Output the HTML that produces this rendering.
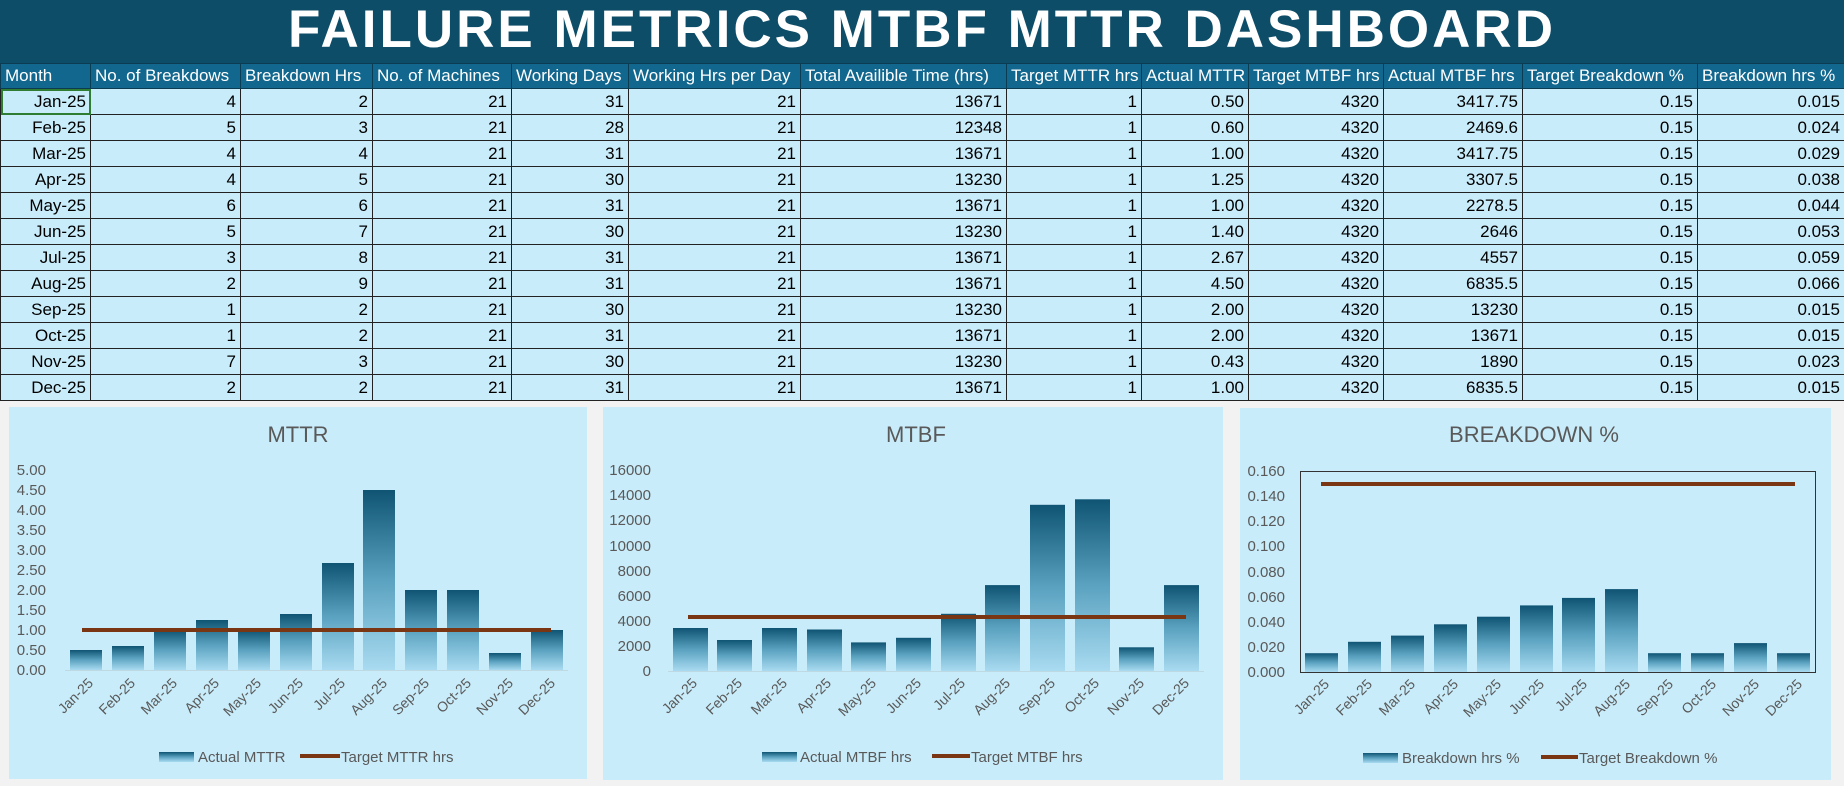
<!DOCTYPE html>
<html><head><meta charset="utf-8"><style>
body{margin:0;width:1844px;height:786px;background:#f2f2f2;overflow:hidden;position:relative;font-family:"Liberation Sans Narrow","Liberation Sans",sans-serif}
#title{position:absolute;left:0;top:0;width:1844px;height:63px;background:#0e4d68;color:#fff;font:bold 53px "Liberation Sans",sans-serif;text-align:center;line-height:60px;letter-spacing:3px}
table{position:absolute;left:0;top:63px;border-collapse:collapse;table-layout:fixed;width:1844px}
td,th{border:1px solid #222;padding:0 4px;font-size:17px;height:25px;white-space:nowrap;overflow:hidden}
th{background:#11678e;color:#fff;font-weight:normal;text-align:left;height:24px;border-color:#0b3c52}
td{background:#c9ecfa;text-align:right;color:#000}
.p{position:absolute;background:#c9ecfa}
</style></head><body>
<div id="title">FAILURE METRICS MTBF MTTR DASHBOARD</div>
<table>
<colgroup><col style="width:90px"><col style="width:150px"><col style="width:132px"><col style="width:139px"><col style="width:117px"><col style="width:172px"><col style="width:206px"><col style="width:135px"><col style="width:107px"><col style="width:135px"><col style="width:139px"><col style="width:175px"><col style="width:147px"></colgroup>
<tr><th>Month</th><th>No. of Breakdows</th><th>Breakdown Hrs</th><th>No. of Machines</th><th>Working Days</th><th>Working Hrs per Day</th><th>Total Availible Time (hrs)</th><th>Target MTTR hrs</th><th>Actual MTTR</th><th>Target MTBF hrs</th><th>Actual MTBF hrs</th><th>Target Breakdown %</th><th>Breakdown hrs %</th></tr>
<tr><td style="outline:2px solid #2e7d32;outline-offset:-2px">Jan-25</td><td>4</td><td>2</td><td>21</td><td>31</td><td>21</td><td>13671</td><td>1</td><td>0.50</td><td>4320</td><td>3417.75</td><td>0.15</td><td>0.015</td></tr>
<tr><td>Feb-25</td><td>5</td><td>3</td><td>21</td><td>28</td><td>21</td><td>12348</td><td>1</td><td>0.60</td><td>4320</td><td>2469.6</td><td>0.15</td><td>0.024</td></tr>
<tr><td>Mar-25</td><td>4</td><td>4</td><td>21</td><td>31</td><td>21</td><td>13671</td><td>1</td><td>1.00</td><td>4320</td><td>3417.75</td><td>0.15</td><td>0.029</td></tr>
<tr><td>Apr-25</td><td>4</td><td>5</td><td>21</td><td>30</td><td>21</td><td>13230</td><td>1</td><td>1.25</td><td>4320</td><td>3307.5</td><td>0.15</td><td>0.038</td></tr>
<tr><td>May-25</td><td>6</td><td>6</td><td>21</td><td>31</td><td>21</td><td>13671</td><td>1</td><td>1.00</td><td>4320</td><td>2278.5</td><td>0.15</td><td>0.044</td></tr>
<tr><td>Jun-25</td><td>5</td><td>7</td><td>21</td><td>30</td><td>21</td><td>13230</td><td>1</td><td>1.40</td><td>4320</td><td>2646</td><td>0.15</td><td>0.053</td></tr>
<tr><td>Jul-25</td><td>3</td><td>8</td><td>21</td><td>31</td><td>21</td><td>13671</td><td>1</td><td>2.67</td><td>4320</td><td>4557</td><td>0.15</td><td>0.059</td></tr>
<tr><td>Aug-25</td><td>2</td><td>9</td><td>21</td><td>31</td><td>21</td><td>13671</td><td>1</td><td>4.50</td><td>4320</td><td>6835.5</td><td>0.15</td><td>0.066</td></tr>
<tr><td>Sep-25</td><td>1</td><td>2</td><td>21</td><td>30</td><td>21</td><td>13230</td><td>1</td><td>2.00</td><td>4320</td><td>13230</td><td>0.15</td><td>0.015</td></tr>
<tr><td>Oct-25</td><td>1</td><td>2</td><td>21</td><td>31</td><td>21</td><td>13671</td><td>1</td><td>2.00</td><td>4320</td><td>13671</td><td>0.15</td><td>0.015</td></tr>
<tr><td>Nov-25</td><td>7</td><td>3</td><td>21</td><td>30</td><td>21</td><td>13230</td><td>1</td><td>0.43</td><td>4320</td><td>1890</td><td>0.15</td><td>0.023</td></tr>
<tr><td>Dec-25</td><td>2</td><td>2</td><td>21</td><td>31</td><td>21</td><td>13671</td><td>1</td><td>1.00</td><td>4320</td><td>6835.5</td><td>0.15</td><td>0.015</td></tr>
</table>
<div class="p" style="left:9px;top:407px;width:578px;height:372px"></div>
<div class="p" style="left:603px;top:407px;width:620px;height:373px"></div>
<div class="p" style="left:1240px;top:408px;width:591px;height:372px"></div>
<svg width="1844" height="786" style="position:absolute;left:0;top:0" font-family="Liberation Sans Narrow, Liberation Sans, sans-serif" fill="#595959">
<defs><linearGradient id="g" x1="0" y1="0" x2="0" y2="1"><stop offset="0" stop-color="#0f5473"/><stop offset="0.5" stop-color="#5aa2c0"/><stop offset="1" stop-color="#a9dbf1"/></linearGradient></defs>
<g font-size="22" text-anchor="middle"><text x="298" y="442">MTTR</text><text x="916" y="442">MTBF</text><text x="1534" y="442">BREAKDOWN %</text></g>
<g font-size="15" text-anchor="end">
<text x="46" y="475">5.00</text><text x="46" y="495">4.50</text><text x="46" y="515">4.00</text><text x="46" y="535">3.50</text><text x="46" y="555">3.00</text><text x="46" y="575">2.50</text><text x="46" y="595">2.00</text><text x="46" y="615">1.50</text><text x="46" y="635">1.00</text><text x="46" y="655">0.50</text><text x="46" y="675">0.00</text></g>
<line x1="65" y1="670.5" x2="568" y2="670.5" stroke="#bfd9e3"/>
<g fill="url(#g)">
<rect x="70" y="650" width="32" height="20"/><rect x="112" y="646" width="32" height="24"/><rect x="154" y="630" width="32" height="40"/><rect x="196" y="620" width="32" height="50"/><rect x="238" y="630" width="32" height="40"/><rect x="280" y="614" width="32" height="56"/><rect x="322" y="563" width="32" height="107"/><rect x="363" y="490" width="32" height="180"/><rect x="405" y="590" width="32" height="80"/><rect x="447" y="590" width="32" height="80"/><rect x="489" y="653" width="32" height="17"/><rect x="531" y="630" width="32" height="40"/></g>
<line x1="82" y1="630" x2="551" y2="630" stroke="#7a3513" stroke-width="4"/>
<g font-size="14" text-anchor="end">
<text transform="translate(94,684) rotate(-45)">Jan-25</text><text transform="translate(136,684) rotate(-45)">Feb-25</text><text transform="translate(178,684) rotate(-45)">Mar-25</text><text transform="translate(220,684) rotate(-45)">Apr-25</text><text transform="translate(262,684) rotate(-45)">May-25</text><text transform="translate(304,684) rotate(-45)">Jun-25</text><text transform="translate(346,684) rotate(-45)">Jul-25</text><text transform="translate(388,684) rotate(-45)">Aug-25</text><text transform="translate(430,684) rotate(-45)">Sep-25</text><text transform="translate(472,684) rotate(-45)">Oct-25</text><text transform="translate(514,684) rotate(-45)">Nov-25</text><text transform="translate(556,684) rotate(-45)">Dec-25</text></g>
<g font-size="15"><rect x="159" y="752" width="35" height="10" fill="url(#g)"/><text x="198" y="762">Actual MTTR</text><line x1="300" y1="756" x2="340" y2="756" stroke="#7a3513" stroke-width="4"/><text x="341" y="762">Target MTTR hrs</text></g>
<g font-size="15" text-anchor="end">
<text x="651" y="475">16000</text><text x="651" y="500">14000</text><text x="651" y="525">12000</text><text x="651" y="551">10000</text><text x="651" y="576">8000</text><text x="651" y="601">6000</text><text x="651" y="626">4000</text><text x="651" y="651">2000</text><text x="651" y="676">0</text></g>
<line x1="668" y1="671.5" x2="1204" y2="671.5" stroke="#bfd9e3"/>
<g fill="url(#g)">
<rect x="673" y="628" width="35" height="43"/><rect x="717" y="640" width="35" height="31"/><rect x="762" y="628" width="35" height="43"/><rect x="807" y="629.5" width="35" height="41.5"/><rect x="851" y="642.4" width="35" height="28.6"/><rect x="896" y="637.8" width="35" height="33.2"/><rect x="941" y="613.8" width="35" height="57.2"/><rect x="985" y="585.1" width="35" height="85.9"/><rect x="1030" y="504.8" width="35" height="166.2"/><rect x="1075" y="499.3" width="35" height="171.7"/><rect x="1119" y="647.3" width="35" height="23.7"/><rect x="1164" y="585.1" width="35" height="85.9"/></g>
<line x1="688" y1="617" x2="1186" y2="617" stroke="#7a3513" stroke-width="4"/>
<g font-size="14" text-anchor="end">
<text transform="translate(698,684) rotate(-45)">Jan-25</text><text transform="translate(743,684) rotate(-45)">Feb-25</text><text transform="translate(788,684) rotate(-45)">Mar-25</text><text transform="translate(832,684) rotate(-45)">Apr-25</text><text transform="translate(877,684) rotate(-45)">May-25</text><text transform="translate(922,684) rotate(-45)">Jun-25</text><text transform="translate(966,684) rotate(-45)">Jul-25</text><text transform="translate(1011,684) rotate(-45)">Aug-25</text><text transform="translate(1056,684) rotate(-45)">Sep-25</text><text transform="translate(1100,684) rotate(-45)">Oct-25</text><text transform="translate(1145,684) rotate(-45)">Nov-25</text><text transform="translate(1190,684) rotate(-45)">Dec-25</text></g>
<g font-size="15"><rect x="762" y="752" width="35" height="10" fill="url(#g)"/><text x="800" y="762">Actual MTBF hrs</text><line x1="932" y1="756" x2="970" y2="756" stroke="#7a3513" stroke-width="4"/><text x="971" y="762">Target MTBF hrs</text></g>
<g font-size="15" text-anchor="end">
<text x="1285" y="476">0.160</text><text x="1285" y="501">0.140</text><text x="1285" y="526">0.120</text><text x="1285" y="551">0.100</text><text x="1285" y="577">0.080</text><text x="1285" y="602">0.060</text><text x="1285" y="627">0.040</text><text x="1285" y="652">0.020</text><text x="1285" y="677">0.000</text></g>
<rect x="1300.5" y="471.5" width="515" height="201" fill="none" stroke="#333"/>
<g fill="url(#g)">
<rect x="1305" y="653.2" width="33" height="18.8"/><rect x="1348" y="641.8" width="33" height="30.2"/><rect x="1391" y="635.6" width="33" height="36.4"/><rect x="1434" y="624.3" width="33" height="47.7"/><rect x="1477" y="616.7" width="33" height="55.3"/><rect x="1520" y="605.4" width="33" height="66.6"/><rect x="1562" y="597.9" width="33" height="74.1"/><rect x="1605" y="589.1" width="33" height="82.9"/><rect x="1648" y="653.2" width="33" height="18.8"/><rect x="1691" y="653.2" width="33" height="18.8"/><rect x="1734" y="643.1" width="33" height="28.9"/><rect x="1777" y="653.2" width="33" height="18.8"/></g>
<line x1="1321" y1="484" x2="1795" y2="484" stroke="#7a3513" stroke-width="4"/>
<g font-size="14" text-anchor="end">
<text transform="translate(1330,685) rotate(-45)">Jan-25</text><text transform="translate(1373,685) rotate(-45)">Feb-25</text><text transform="translate(1416,685) rotate(-45)">Mar-25</text><text transform="translate(1459,685) rotate(-45)">Apr-25</text><text transform="translate(1502,685) rotate(-45)">May-25</text><text transform="translate(1545,685) rotate(-45)">Jun-25</text><text transform="translate(1588,685) rotate(-45)">Jul-25</text><text transform="translate(1631,685) rotate(-45)">Aug-25</text><text transform="translate(1674,685) rotate(-45)">Sep-25</text><text transform="translate(1717,685) rotate(-45)">Oct-25</text><text transform="translate(1760,685) rotate(-45)">Nov-25</text><text transform="translate(1803,685) rotate(-45)">Dec-25</text></g>
<g font-size="15"><rect x="1363" y="753" width="35" height="10" fill="url(#g)"/><text x="1402" y="763">Breakdown hrs %</text><line x1="1541" y1="757" x2="1578" y2="757" stroke="#7a3513" stroke-width="4"/><text x="1579" y="763">Target Breakdown %</text></g>
</svg>
</body></html>
